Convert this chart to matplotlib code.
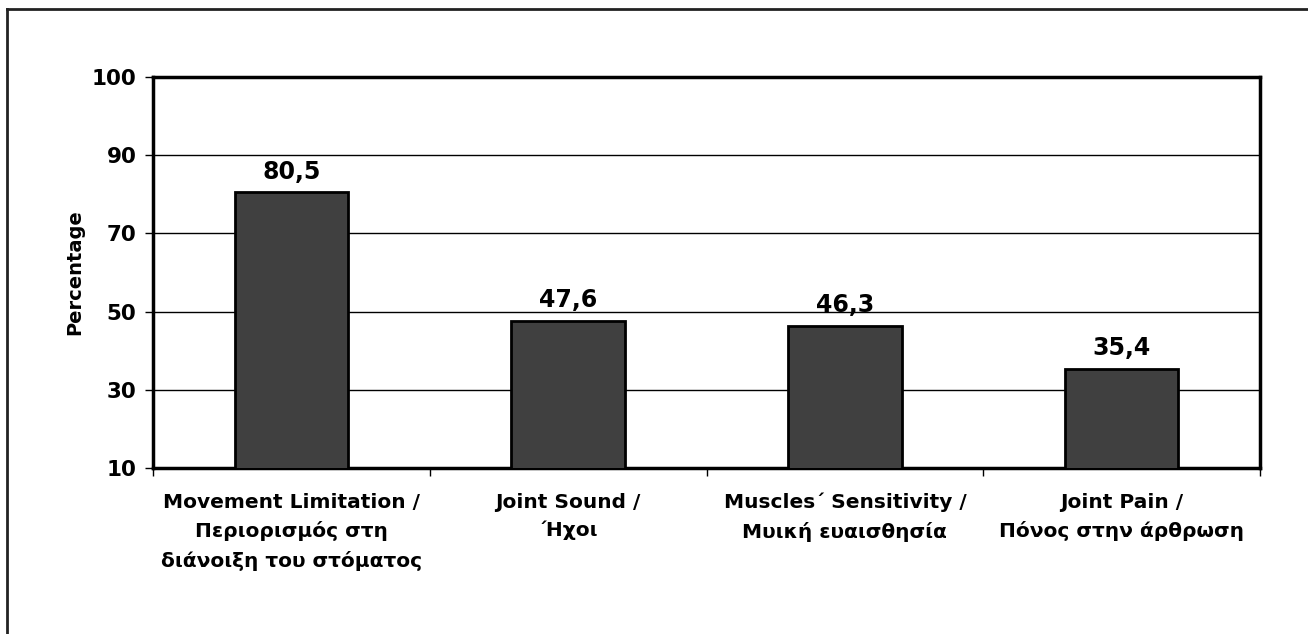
import matplotlib
matplotlib.use("Agg")
import matplotlib.pyplot as plt
from matplotlib.lines import Line2D

plt.rcParams['font.family'] = ['DejaVu Sans']

categories = [
    "Movement Limitation /\nΠεριορισμός στη\nδιάνοιξη του στόματος",
    "Joint Sound /\n΄Ηχοι",
    "Muscles΄ Sensitivity /\nΜυική ευαισθησία",
    "Joint Pain /\nΠόνος στην άρθρωση",
]
values = [80.5, 47.6, 46.3, 35.4]
value_labels = ["80,5", "47,6", "46,3", "35,4"]
# Excel axis: evenly spaced ticks, the top one reads 100
ytick_pos = [10, 30, 50, 70, 90, 110]
ytick_labels = ["10", "30", "50", "70", "90", "100"]

fig = plt.figure(figsize=(13.08, 6.34), dpi=100)
ax = fig.add_axes([153 / 1308, 1 - 468 / 634, (1260 - 153) / 1308, (468 - 77) / 634])

x = range(len(values))
ax.bar(x, values, width=0.41, color='#404040', edgecolor='black', linewidth=2, zorder=3)

for xi, v, lab in zip(x, values, value_labels):
    ax.text(xi, v + 2.2, lab, ha='center', va='bottom', fontsize=17, fontweight='bold')

ax.set_xlim(-0.5, len(values) - 0.5)
ax.set_ylim(10, 110)
ax.set_yticks(ytick_pos)
ax.set_yticklabels(ytick_labels, fontsize=15.5, fontweight='bold')
for y in ytick_pos[1:-1]:
    ax.axhline(y, color='black', linewidth=1, zorder=1)

# category labels between boundary ticks
ax.set_xticks([i - 0.5 for i in range(len(values) + 1)])
ax.set_xticklabels([])
ax.tick_params(axis='x', length=6, width=1, direction='out')
ax.tick_params(axis='y', length=6, width=1, direction='out', pad=6)
for xi, cat in zip(x, categories):
    ax.text(xi, 10 - 6.3, cat, ha='center', va='top',
            fontsize=14.5, fontweight='bold', linespacing=1.6)

ax.set_ylabel("Percentage", fontsize=14, fontweight='bold', labelpad=5)

for s in ax.spines.values():
    s.set_linewidth(2.5)

# outer chart border (left and top only visible)
fig.add_artist(Line2D([7 / 1308, 7 / 1308], [0, 1 - 9 / 634], color='#222222', linewidth=2))
fig.add_artist(Line2D([7 / 1308, 1], [1 - 9 / 634, 1 - 9 / 634], color='#222222', linewidth=2))

fig.savefig("out.png", dpi=100)
